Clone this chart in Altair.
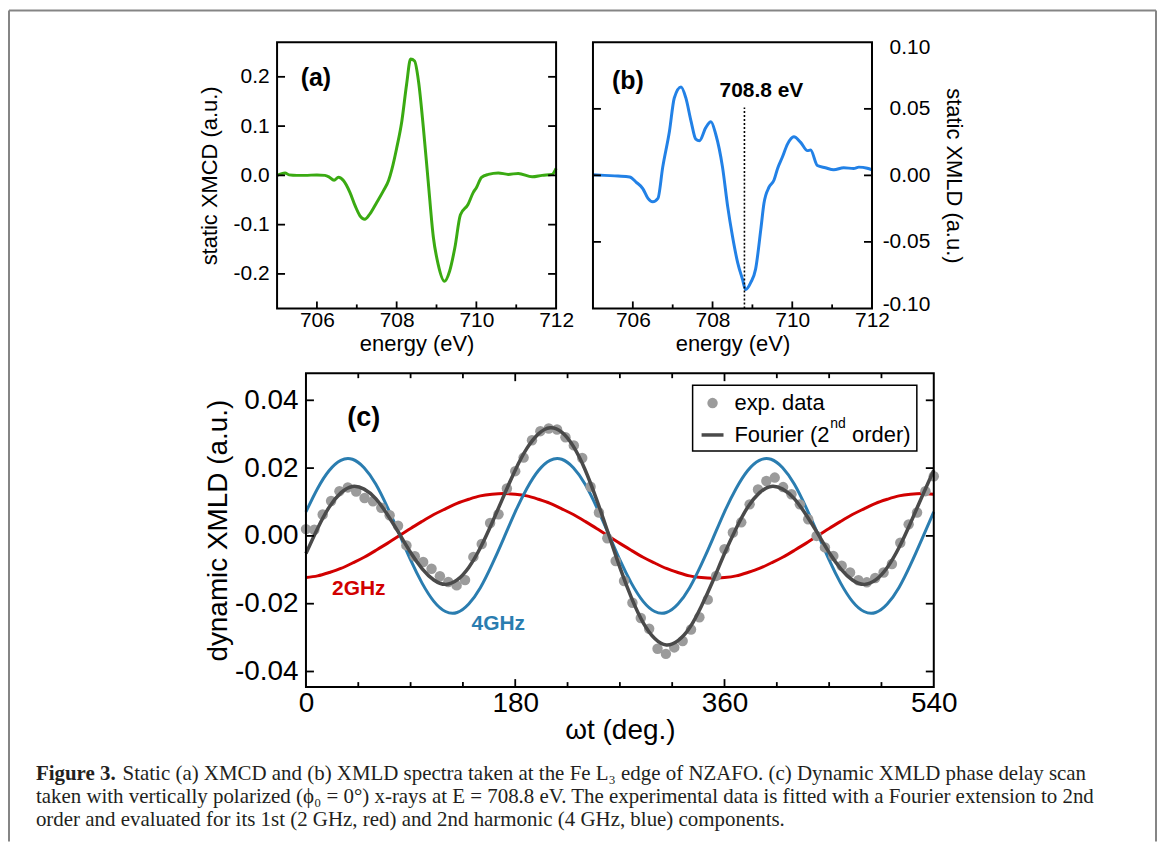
import altair as alt
import pandas as pd

# ---------------- data: panel (a) static XMCD ----------------
a_energy = [705.0, 705.2, 705.3, 705.5, 705.7, 706.0, 706.2, 706.3, 706.43, 706.54,
            706.67, 706.83, 706.96, 707.08, 707.2, 707.33, 707.5, 707.67, 707.8, 707.88,
            708.0, 708.13, 708.25, 708.35, 708.45, 708.55, 708.67, 708.79, 708.92, 709.04,
            709.2, 709.33, 709.46, 709.6, 709.79, 709.92, 710.0, 710.13, 710.3, 710.55,
            710.8, 711.05, 711.4, 711.65, 711.9, 712.0]
a_xmcd = [0.000, 0.005, 0.001, 0.000, 0.000, 0.001, 0.000, -0.003, -0.010, -0.004,
          -0.011, -0.035, -0.062, -0.082, -0.089, -0.078, -0.055, -0.031, -0.010, 0.012,
          0.055, 0.110, 0.185, 0.236, 0.232, 0.190, 0.097, -0.011, -0.125, -0.180,
          -0.215, -0.194, -0.147, -0.080, -0.059, -0.035, -0.025, -0.004, 0.002, 0.005,
          0.002, 0.004, -0.003, 0.000, 0.002, 0.014]

# ---------------- data: panel (b) static XMLD ----------------
b_energy = [705.0, 705.29, 705.63, 705.92, 706.08, 706.25, 706.38, 706.5, 706.63, 706.75,
            706.92, 707.04, 707.21, 707.33, 707.46, 707.58, 707.67, 707.83, 707.96, 708.08,
            708.25, 708.38, 708.5, 708.63, 708.75, 708.83, 708.96, 709.08, 709.21, 709.29,
            709.42, 709.54, 709.63, 709.75, 709.88, 710.04, 710.21, 710.38, 710.46, 710.63,
            710.83, 711.04, 711.29, 711.54, 711.67, 711.88, 712.0]
b_xmld = [0.0005, 0.0, -0.0005, -0.0012, -0.005, -0.0099, -0.0173, -0.0198, -0.0173, 0.0062,
          0.0334, 0.0582, 0.0665, 0.0582, 0.0408, 0.0272, 0.0260, 0.0359, 0.0403, 0.0309,
          0.0062, -0.0235, -0.0458, -0.0656, -0.0780, -0.0858, -0.0804, -0.0705, -0.0408, -0.0210,
          -0.0087, -0.0037, 0.0050, 0.0136, 0.0235, 0.0290, 0.0248, 0.0186, 0.0190, 0.0074,
          0.0057, 0.0042, 0.0057, 0.0052, 0.0062, 0.0054, 0.0042]
b_marker_energy = [708.8]
b_marker_bottom = [-0.1]
b_marker_top = [0.051]

# ---------------- data: panel (c) dynamic XMLD ----------------
c_deg_exp = [0, 7.2, 14.4, 21.6, 28.8, 36, 43.2, 50.4, 57.6, 64.8,
             72, 79.2, 86.4, 93.6, 100.8, 108, 115.2, 122.4, 129.6, 136.8,
             144, 151.2, 158.4, 165.6, 172.8, 180, 187.2, 194.4, 201.6, 208.8,
             216, 223.2, 230.4, 237.6, 244.8, 252, 259.2, 266.4, 273.6, 280.8,
             288, 295.2, 302.4, 309.6, 316.8, 324, 331.2, 338.4, 345.6, 352.8,
             360, 367.2, 374.4, 381.6, 388.8, 396, 403.2, 410.4, 417.6, 424.8,
             432, 439.2, 446.4, 453.6, 460.8, 468, 475.2, 482.4, 489.6, 496.8,
             504, 511.2, 518.4, 525.6, 532.8, 540]
c_exp = [0.0020, 0.0018, 0.0063, 0.0103, 0.0132, 0.0143, 0.0131, 0.0112, 0.0102, 0.0083,
         0.0061, 0.0030, -0.0028, -0.0060, -0.0077, -0.0097, -0.0119, -0.0136, -0.0146, -0.0130,
         -0.0062, -0.0024, 0.0038, 0.0064, 0.0140, 0.0191, 0.0231, 0.0282, 0.0309, 0.0317,
         0.0314, 0.0291, 0.0267, 0.0230, 0.0145, 0.0069, -0.0007, -0.0074, -0.0133, -0.0197,
         -0.0242, -0.0274, -0.0333, -0.0348, -0.0329, -0.0310, -0.0276, -0.0240, -0.0188, -0.0118,
         -0.0039, 0.0010, 0.0040, 0.0093, 0.0137, 0.0162, 0.0172, 0.0144, 0.0123, 0.0093,
         0.0049, 0.0000, -0.0034, -0.0059, -0.0088, -0.0108, -0.0131, -0.0137, -0.0124, -0.0108,
         -0.0083, -0.0020, 0.0034, 0.0069, 0.0132, 0.0176]

c_deg_fit = [0, 10, 20, 30, 40, 50, 60, 70, 80, 90, 100, 110, 120, 130, 140, 150, 160, 170,
             180, 190, 200, 210, 220, 230, 240, 250, 260, 270, 280, 290, 300, 310, 320, 330, 340, 350,
             360, 370, 380, 390, 400, 410, 420, 430, 440, 450, 460, 470, 480, 490, 500, 510, 520, 530,
             540]
c_2ghz = [-0.0123, -0.0118, -0.0108, -0.0096, -0.0080, -0.0063, -0.0043, -0.0022, 0.0000, 0.0022,
          0.0043, 0.0063, 0.0080, 0.0096, 0.0108, 0.0118, 0.0123, 0.0125,
          0.0123, 0.0118, 0.0108, 0.0096, 0.0080, 0.0063, 0.0043, 0.0022, 0.0000, -0.0022,
          -0.0043, -0.0063, -0.0080, -0.0096, -0.0108, -0.0118, -0.0123, -0.0125,
          -0.0123, -0.0118, -0.0108, -0.0096, -0.0080, -0.0063, -0.0043, -0.0022, 0.0000, 0.0022,
          0.0043, 0.0063, 0.0080, 0.0096, 0.0108, 0.0118, 0.0123, 0.0125,
          0.0123]
c_4ghz = [0.0071, 0.0140, 0.0193, 0.0223, 0.0226, 0.0201, 0.0153, 0.0085, 0.0008, -0.0071,
          -0.0140, -0.0193, -0.0223, -0.0226, -0.0201, -0.0153, -0.0085, -0.0008,
          0.0071, 0.0140, 0.0193, 0.0223, 0.0226, 0.0201, 0.0153, 0.0085, 0.0008, -0.0071,
          -0.0140, -0.0193, -0.0223, -0.0226, -0.0201, -0.0153, -0.0085, -0.0008,
          0.0071, 0.0140, 0.0193, 0.0223, 0.0226, 0.0201, 0.0153, 0.0085, 0.0008, -0.0071,
          -0.0140, -0.0193, -0.0223, -0.0226, -0.0201, -0.0153, -0.0085, -0.0008,
          0.0071]
c_fit = [-0.0052, 0.0022, 0.0085, 0.0127, 0.0146, 0.0138, 0.0110, 0.0063, 0.0008, -0.0049,
         -0.0097, -0.0130, -0.0143, -0.0130, -0.0093, -0.0035, 0.0038, 0.0117,
         0.0194, 0.0258, 0.0301, 0.0319, 0.0306, 0.0264, 0.0196, 0.0107, 0.0008, -0.0093,
         -0.0183, -0.0256, -0.0303, -0.0322, -0.0309, -0.0271, -0.0208, -0.0133,
         -0.0052, 0.0022, 0.0085, 0.0127, 0.0146, 0.0138, 0.0110, 0.0063, 0.0008, -0.0049,
         -0.0097, -0.0130, -0.0143, -0.0130, -0.0093, -0.0035, 0.0038, 0.0117,
         0.0194]

# ---------------- tick / label values ----------------
ab_x_labels = [706, 708, 710, 712]
ab_x_major = [706, 708, 710]
ab_x_minor = [707, 709, 711]
a_y_labels = [-0.2, -0.1, 0, 0.1, 0.2]
b_y_labels = [-0.1, -0.05, 0, 0.05, 0.1]
b_y_ticks = [-0.05, 0, 0.05]
c_x_labels = [0, 180, 360, 540]
c_x_major = [180, 360]
c_x_minor = [45, 90, 135, 225, 270, 315, 405, 450, 495]
c_y_labels = [-0.04, -0.02, 0, 0.02, 0.04]

caption_lines = [
    "Static (a) XMCD and (b) XMLD spectra taken at the Fe L\u2083 edge of NZAFO. (c) Dynamic XMLD phase delay scan",
    "taken with vertically polarized (\u03d5\u2080 = 0\u00b0) x-rays at E = 708.8 eV. The experimental data is fitted with a Fourier extension to 2nd",
    "order and evaluated for its 1st (2 GHz, red) and 2nd harmonic (4 GHz, blue) components.",
]

# ---------------- styles / layout (pixels inside the single view) ----------------
SANS = "Liberation Sans"
SERIF = "Liberation Serif"
GREEN = "#3aaa12"
BLUE_B = "#2281e6"
RED = "#d10000"
BLUE_C = "#2a7db0"
FIT = "#4a4a4a"
DOT = "#9b9b9b"
CAP = "#231f20"

A_X0, A_X1 = 0, 280
B_X0, B_X1 = 317, 597
AB_Y0, AB_Y1 = 0, 267
C_X0, C_X1 = 29, 659
C_Y0, C_Y1 = 332, 647
VIEW_W, VIEW_H = 659, 647

one = pd.DataFrame({"k": [0]})


def txt(s, x, y, size, weight="normal", color="black", align="center",
        baseline="middle", font=SANS):
    return alt.Chart(one).mark_text(
        text=s, fontSize=size, fontWeight=weight, color=color, align=align,
        baseline=baseline, font=font
    ).encode(x=alt.value(x), y=alt.value(y))


def xticks(vals, y0, y1, sw=1.8):
    return alt.Chart(pd.DataFrame({"t": vals})).mark_rule(color="black", strokeWidth=sw).encode(
        x=alt.X("t:Q"), y=alt.value(y0), y2=alt.value(y1))


def yticks(vals, x0, x1, sw=1.8):
    return alt.Chart(pd.DataFrame({"t": vals})).mark_rule(color="black", strokeWidth=sw).encode(
        y=alt.Y("t:Q"), x=alt.value(x0), x2=alt.value(x1))


def box(x0, x1, y0, y1, color="black", sw=2):
    return alt.Chart(one).mark_rect(fillOpacity=0, stroke=color, strokeWidth=sw).encode(
        x=alt.value(x0), x2=alt.value(x1), y=alt.value(y0), y2=alt.value(y1))


def hline(x0, x1, y, color, sw):
    return alt.Chart(one).mark_rule(color=color, strokeWidth=sw).encode(
        x=alt.value(x0), x2=alt.value(x1), y=alt.value(y))


def vline(x, y0, y1, color, sw):
    return alt.Chart(one).mark_rule(color=color, strokeWidth=sw).encode(
        x=alt.value(x), y=alt.value(y0), y2=alt.value(y1))


def hyphen(fmt):
    return ("datum.value < 0 ? '-' + format(-datum.value, '%s') : format(datum.value, '%s')"
            % (fmt, fmt))


AB_X_OFFSET = -(VIEW_H - AB_Y1)

# ---------------- panel (a) ----------------
xa = alt.X("energy:Q", scale=alt.Scale(domain=[705, 712], range=[A_X0, A_X1], nice=False, zero=False),
           axis=alt.Axis(orient="bottom", offset=AB_X_OFFSET, values=ab_x_labels, format="d",
                         title="energy (eV)", labelFlush=False, labelPadding=1, titlePadding=3,
                         labelFontSize=21, titleFontSize=22))
ya = alt.Y("xmcd:Q", scale=alt.Scale(domain=[-0.27, 0.27], range=[AB_Y1, AB_Y0], nice=False, zero=False),
           axis=alt.Axis(orient="left", values=a_y_labels, labelExpr=hyphen(".1f"),
                         title="static XMCD (a.u.)", labelPadding=8, titlePadding=12,
                         labelFontSize=21, titleFontSize=22))
line_a = alt.Chart(pd.DataFrame({"energy": a_energy, "xmcd": a_xmcd})).mark_line(
    color=GREEN, strokeWidth=3, interpolate="monotone").encode(x=xa, y=ya)
panel_a = alt.layer(
    line_a,
    xticks(ab_x_major, AB_Y1, AB_Y1 - 7), xticks(ab_x_minor, AB_Y1, AB_Y1 - 4),
    yticks(a_y_labels, A_X0, A_X0 + 8), yticks(a_y_labels, A_X1, A_X1 - 8),
    box(A_X0, A_X1, AB_Y0, AB_Y1),
    txt("(a)", A_X0 + 39, 36, 25, "bold"),
)

# ---------------- panel (b) ----------------
xb = alt.X("energy:Q", scale=alt.Scale(domain=[705, 712], range=[B_X0, B_X1], nice=False, zero=False),
           axis=alt.Axis(orient="bottom", offset=AB_X_OFFSET, values=ab_x_labels, format="d",
                         title="energy (eV)", labelFlush=False, labelPadding=1, titlePadding=3,
                         labelFontSize=21, titleFontSize=22))
yb = alt.Y("xmld:Q", scale=alt.Scale(domain=[-0.1, 0.1], range=[AB_Y1, AB_Y0], nice=False, zero=False),
           axis=alt.Axis(orient="right", offset=-(VIEW_W - B_X1), values=b_y_labels,
                         labelExpr=hyphen(".2f"), title="static XMLD (a.u.)", labelAlign="right",
                         labelPadding=58, labelFlush=True, labelFlushOffset=6, titlePadding=12,
                         titleAngle=90, labelFontSize=21, titleFontSize=22))
line_b = alt.Chart(pd.DataFrame({"energy": b_energy, "xmld": b_xmld})).mark_line(
    color=BLUE_B, strokeWidth=3, interpolate="monotone").encode(x=xb, y=yb)
marker_b = alt.Chart(pd.DataFrame({"e": b_marker_energy, "lo": b_marker_bottom,
                                   "hi": b_marker_top})).mark_rule(
    color="black", strokeWidth=1.6, strokeDash=[2, 2]).encode(x="e:Q", y="lo:Q", y2="hi:Q")
panel_b = alt.layer(
    line_b, marker_b,
    xticks(ab_x_major, AB_Y1, AB_Y1 - 7), xticks(ab_x_minor, AB_Y1, AB_Y1 - 4),
    yticks(b_y_ticks, B_X0, B_X0 + 8), yticks(b_y_ticks, B_X1, B_X1 - 8),
    box(B_X0, B_X1, AB_Y0, AB_Y1),
    txt("(b)", B_X0 + 35, 39, 25, "bold"),
    txt("708.8 eV", B_X0 + 169, 49, 21, "bold"),
)

# ---------------- panel (c) ----------------
xc = alt.X("deg:Q", scale=alt.Scale(domain=[0, 540], range=[C_X0, C_X1], nice=False, zero=False),
           axis=alt.Axis(orient="bottom", offset=0, values=c_x_labels, format="d",
                         title="\u03c9t (deg.)", labelFlush=False, labelPadding=2, titlePadding=0,
                         labelFontSize=28, titleFontSize=28))
yc = alt.Y("v:Q", scale=alt.Scale(domain=[-0.0446, 0.048], range=[C_Y1, C_Y0], nice=False, zero=False),
           axis=alt.Axis(orient="left", offset=-C_X0, values=c_y_labels, labelExpr=hyphen(".2f"),
                         title="dynamic XMLD (a.u.)", labelPadding=8, titlePadding=2,
                         labelFontSize=28, titleFontSize=28))
fit_df = pd.DataFrame({"deg": c_deg_fit, "r": c_2ghz, "b": c_4ghz, "f": c_fit})
red_line = alt.Chart(fit_df).mark_line(color=RED, strokeWidth=3, interpolate="natural").encode(
    x=xc, y=alt.Y("r:Q"))
blue_line = alt.Chart(fit_df).mark_line(color=BLUE_C, strokeWidth=3, interpolate="natural").encode(
    x=xc, y=alt.Y("b:Q"))
dots = alt.Chart(pd.DataFrame({"deg": c_deg_exp, "v": c_exp})).mark_circle(
    color=DOT, size=110, opacity=1).encode(x=xc, y=yc)
fit_line = alt.Chart(fit_df).mark_line(color=FIT, strokeWidth=3.5, interpolate="natural").encode(
    x=xc, y=alt.Y("f:Q"))

LX, LY = C_X0, C_Y0
legend_box = alt.Chart(one).mark_rect(fill="white", stroke="black", strokeWidth=1.5).encode(
    x=alt.value(LX + 388), x2=alt.value(LX + 613), y=alt.value(LY + 12), y2=alt.value(LY + 78))
legend_dot = alt.Chart(one).mark_circle(color=DOT, size=110, opacity=1).encode(
    x=alt.value(LX + 408), y=alt.value(LY + 30))

panel_c = alt.layer(
    red_line, blue_line, dots, fit_line,
    xticks(c_x_major, C_Y1, C_Y1 - 8), xticks(c_x_minor, C_Y1, C_Y1 - 5),
    xticks(c_x_major, C_Y0, C_Y0 + 8), xticks(c_x_minor, C_Y0, C_Y0 + 5),
    yticks(c_y_labels, C_X0, C_X0 + 8), yticks(c_y_labels, C_X1, C_X1 - 8),
    box(C_X0, C_X1, C_Y0, C_Y1),
    txt("(c)", C_X0 + 58, C_Y0 + 45, 27, "bold"),
    txt("2GHz", C_X0 + 53, C_Y0 + 217, 21, "bold", RED),
    txt("4GHz", C_X0 + 193, C_Y0 + 252, 21, "bold", BLUE_C),
    legend_box, legend_dot,
    hline(LX + 397, LX + 419, LY + 62, FIT, 3.5),
    txt("exp. data", LX + 430, LY + 30, 22, align="left"),
    txt("Fourier (2", LX + 430, LY + 62, 22, align="left"),
    txt("nd", LX + 526, LY + 51, 14, align="left"),
    txt("order)", LX + 548, LY + 62, 22, align="left"),
)

# ---------------- caption + outer frame (page x = view x + 278, page y = view y + 41) ----------------
FR_L, FR_R, FR_T, FR_B = -269, 882, -32, 802
deco = alt.layer(
    hline(FR_L, FR_R, FR_T, "#858585", 2),
    vline(FR_L, FR_T, FR_B, "#858585", 2),
    vline(FR_R, FR_T, FR_B, "#858585", 2),
    txt("Figure 3.", -242, 734, 21, "bold", CAP, align="left", font=SERIF),
    txt(caption_lines[0], -155, 734, 21, color=CAP, align="left", font=SERIF),
    txt(caption_lines[1], -242, 757, 21, color=CAP, align="left", font=SERIF),
    txt(caption_lines[2], -242, 780, 21, color=CAP, align="left", font=SERIF),
)

chart = alt.layer(panel_a, panel_b, panel_c, deco).resolve_scale(
    x="independent", y="independent"
).resolve_axis(
    x="independent", y="independent"
).properties(
    width=VIEW_W, height=VIEW_H, padding=0
).configure(font=SANS).configure_axis(
    grid=False, ticks=False, tickSize=0, domain=False, labelFont=SANS, titleFont=SANS,
    labelColor="black", titleColor="black", titleFontWeight="normal"
).configure_view(stroke="transparent")

chart.save("out.html", embed_options={"renderer": "svg", "actions": False})
